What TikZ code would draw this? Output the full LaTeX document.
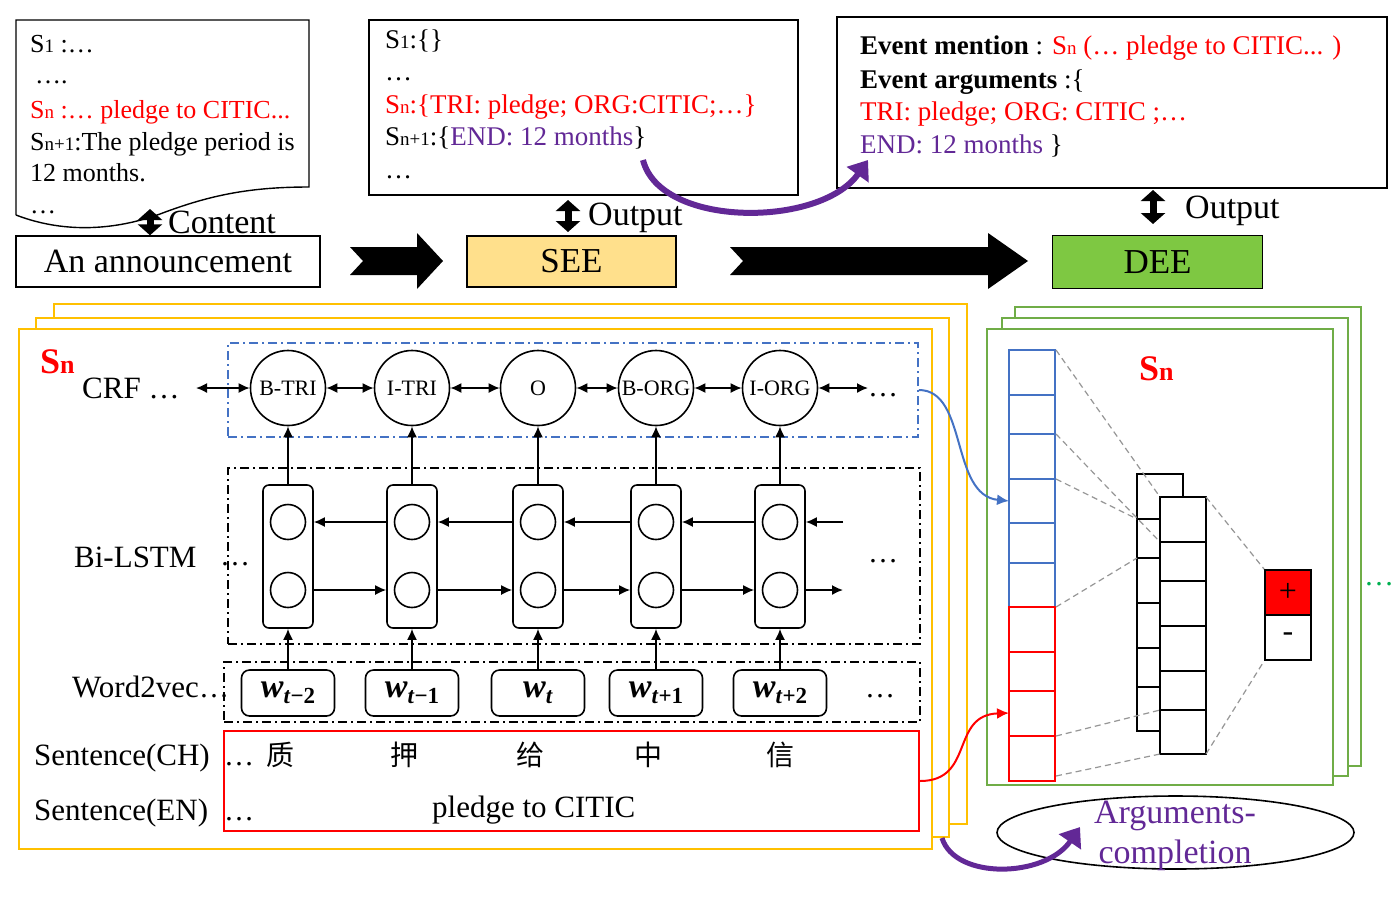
\documentclass[tikz,border=0pt]{standalone}
\usepackage{fontspec}
\setmainfont{Liberation Serif}
\newfontfamily\cjk{Noto Sans CJK SC}
\usetikzlibrary{arrows.meta,shapes.geometric,calc}
\definecolor{myred}{RGB}{255,0,0}
\definecolor{mypurple}{RGB}{98,40,150}
\definecolor{myblue}{RGB}{68,114,196}
\definecolor{myyellow}{RGB}{255,192,0}
\definecolor{mygreen}{RGB}{112,173,71}
\definecolor{seefill}{RGB}{255,224,140}
\definecolor{deefill}{RGB}{126,200,66}
\definecolor{dgray}{RGB}{150,150,150}
\definecolor{dotgreen}{RGB}{0,176,80}
\newcommand\fs[1]{\fontsize{#1}{#1}\selectfont}
\newcommand\sub[2][19]{{\fontsize{#1}{#1}\selectfont #2}}
\newcommand\wlab[1]{\textbf{\textit{w}}\raisebox{-6pt}{\fs{23}\textbf{\textit{t}}\textbf{#1}}}
\begin{document}
\begin{tikzpicture}[x=1pt,y=-1pt,
  txt/.style={inner sep=0pt, anchor=base west},
  bx/.style={draw, line width=1.4pt, inner sep=0pt},
  crfc/.style={circle, draw, line width=1.6pt, minimum size=75pt, inner sep=0pt, font=\fs{22}},
  cellbox/.style={draw, rounded corners=6pt, line width=1.6pt, minimum width=50pt, minimum height=143pt, inner sep=0pt},
  icirc/.style={circle, draw, line width=1.6pt, minimum size=35pt, inner sep=0pt},
  wbox/.style={draw, rounded corners=8pt, line width=1.6pt, minimum width=93pt, minimum height=46pt, inner sep=0pt, font=\fs{34}},
  arr/.style={-{Latex[length=11pt,width=10pt]}, line width=1.6pt},
  darr/.style={{Latex[length=11pt,width=10pt]}-{Latex[length=11pt,width=10pt]}, line width=1.6pt},
  fatarr/.style={{Triangle[length=11pt,width=24pt]}-{Triangle[length=11pt,width=24pt]}, line width=7pt},
  dashdot/.style={line width=1.6pt, dash pattern=on 9pt off 4pt on 2pt off 4pt},
  panelY/.style={draw=myyellow, fill=white, line width=2pt},
  panelG/.style={draw=mygreen, fill=white, line width=2pt},
  gdash/.style={draw=dgray, line width=1.2pt, dash pattern=on 6pt off 4pt},
  curvearr/.style={line width=6pt, draw=mypurple, -{Triangle[length=18pt,width=26pt]}},
  cellb/.style={draw=myblue, line width=1.6pt},
  cellr/.style={draw=myred, line width=1.6pt},
  cellk/.style={draw=black, fill=white, line width=1.6pt},
]
\useasboundingbox (0,0) rectangle (1396,898);

% ---------- top left document ----------
\draw[line width=1.4pt] (16,215) -- (16,20) -- (309,20) -- (309,187)
  .. controls (250,187) and (210,195) .. (160,214)
  .. controls (110,232) and (60,232) .. (16,215);
\begin{scope}[font=\fs{26}]
\node[txt] (a1) at (30,52) {S\sub{1} :…};
\node[txt] (a2) at (35,83) {….};
\node[txt, text=myred] (a3) at (30,118) {S\sub{n} :… pledge to CITIC...};
\node[txt] (a4) at (30,150) {S\sub{n+1}:The pledge period is};
\node[txt] (a5) at (30,181) {12 months.};
\node[txt] (a6) at (30,213) {…};
\end{scope}

% ---------- announcement / SEE / DEE ----------
\node[bx, minimum width=304pt, minimum height=51pt, font=\fs{34}] (ann) at (168,261.5) {An announcement};
\node[bx, fill=seefill, minimum width=209pt, minimum height=51pt, font=\fs{35}] (see) at (571.5,261.5) {SEE};
\node[bx, fill=deefill, minimum width=210pt, minimum height=53pt, font=\fs{35}] (dee) at (1157.5,262) {DEE};

\coordinate (docb) at (150,209);
\draw[fatarr] (ann.north -| docb) -- (docb);
\node[txt, font=\fs{34}] (content) at (168,233) {Content};

% ---------- middle top box ----------
\node[bx, minimum width=429pt, minimum height=175pt] (midbox) at (583.5,107.5) {};
\begin{scope}[font=\fs{27}]
\node[txt] (b1) at (385,48) {S\sub{1}:\{\}};
\node[txt] (b2) at (385,80) {…};
\node[txt, text=myred] (b3) at (385,113) {S\sub{n}:\{TRI: pledge; ORG:CITIC;…\}};
\node[txt] (b4) at (385,145) {S\sub{n+1}:\{{\color{mypurple}END: 12 months}\}};
\node[txt] (b5) at (385,178) {…};
\end{scope}
\coordinate (so1) at (568,232);
\coordinate (so2) at (568,200);
\draw[fatarr] (so1) -- (so2);
\node[txt, font=\fs{34}] (out1) at (588,225) {Output};

% ---------- right top box ----------
\node[bx, minimum width=550pt, minimum height=171pt] (rbox) at (1112,102.5) {};
\begin{scope}[font=\fs{27}]
\node[txt] (r1) at (860,54) {\textbf{Event mention} : {\color{myred}S\sub{n} (… pledge to CITIC... )}};
\node[txt] (r2) at (860,88) {\textbf{Event arguments} :\{};
\node[txt, text=myred] (r3) at (860,120) {TRI: pledge; ORG: CITIC ;…};
\node[txt] (r4) at (860,153) {{\color{mypurple}END: 12 months} \}};
\end{scope}
\coordinate (do1) at (1153,224);
\coordinate (do2) at (1153,190);
\draw[fatarr] (do1) -- (do2);
\node[txt, font=\fs{34}] (out2) at (1185,218) {Output};

% purple arrow between top boxes
\coordinate (pa1) at (643,160);
\coordinate (pa2) at (868,160);
\draw[curvearr] (pa1) .. controls (660,228) and (820,228) .. (pa2);

% big black chevron arrows
\fill (350,247) -- (417,247) -- (417,233) -- (443,261) -- (417,289) -- (417,275) -- (350,275) -- (363,261) -- cycle;
\fill (730,247) -- (988,247) -- (988,233) -- (1028,261) -- (988,289) -- (988,275) -- (730,275) -- (743,261) -- cycle;

% ---------- yellow panels ----------
\draw[panelY] (54,304) rectangle (967,824);
\draw[panelY] (36,318) rectangle (949,837);
\draw[panelY] (19,329) rectangle (932,849);

\node[txt, font=\fs{36}\bfseries, text=myred] (snl) at (40,373) {S\sub[26]{n}};
\node[txt, font=\fs{31}] (crfl) at (82,398) {CRF …};
\node[txt, font=\fs{31}] (bil) at (74,567) {Bi-LSTM};
\node[txt, font=\fs{30}] (bid) at (220,565) {…};
\node[txt, font=\fs{31}] (wvl) at (72,697) {Word2vec};
\node[txt, font=\fs{30}] (wvd) at (199,697) {…};
\node[txt, font=\fs{31}] (sch) at (34,765) {Sentence(CH)};
\node[txt, font=\fs{31}] (sen) at (34,820) {Sentence(EN)};

% dashed boxes
\node[draw=myblue, dashdot, inner sep=0pt, minimum width=690pt, minimum height=94pt] (crfbox) at (573,390) {};
\node[draw=black, dashdot, inner sep=0pt, minimum width=692pt, minimum height=176pt] (lstmbox) at (574,556) {};
\node[draw=black, dashdot, inner sep=0pt, minimum width=696pt, minimum height=60pt] (wvbox) at (572,692) {};
\node[draw=myred, line width=2pt, inner sep=0pt, minimum width=695pt, minimum height=100pt] (sentbox) at (571.5,781) {};

% columns
\foreach \x/\n/\l in {288/1/B-TRI, 412/2/I-TRI, 538/3/O, 656/4/B-ORG, 780/5/I-ORG} {
  \node[crfc] (c\n) at (\x,388) {\raisebox{-3pt}{\l}};
  \node[cellbox] (L\n) at (\x,556.5) {};
  \node[icirc] (u\n) at (\x,522) {};
  \node[icirc] (d\n) at (\x,590) {};
}
\node[wbox] (w1) at (288,693) {\wlab{−2}};
\node[wbox] (w2) at (412,693) {\wlab{−1}};
\node[wbox] (w3) at (538,693) {\wlab{}};
\node[wbox] (w4) at (656,693) {\wlab{+1}};
\node[wbox] (w5) at (780,693) {\wlab{+2}};
\foreach \n in {1,...,5} {
  \draw[arr] (w\n.north) -- (L\n.south);
  \draw[arr] (L\n.north) -- (c\n.south);
}
\foreach \i/\j in {1/2,2/3,3/4,4/5} {
  \draw[darr] (c\i) -- (c\j);
  \draw[arr] (u\j -| L\j.west) -- (u\i -| L\i.east);
  \draw[arr] (d\i -| L\i.east) -- (d\j -| L\j.west);
}
\coordinate (crfa) at (196,388);
\coordinate (crfb) at (868,388);
\draw[darr] (crfa) -- (c1);
\draw[darr] (c5) -- (crfb);
\node[txt, font=\fs{30}] (crfd) at (868,396) {…};
\coordinate (ru) at (843,522);
\coordinate (rd) at (843,590);
\draw[arr] (ru) -- (u5 -| L5.east);
\draw[arr] (d5 -| L5.east) -- (rd);
\node[txt, font=\fs{30}] (lstmd) at (868,562) {…};
\node[txt, font=\fs{30}] (wvd2) at (865,697) {…};

% sentences
\node[txt, font=\fs{30}] (chd) at (224,765) {…};
\node[txt, font=\fs{30}] (end) at (224,820) {…};
\node[font=\cjk\fs{28}, inner sep=0pt] (ch1) at (280,755) {质};
\node[font=\cjk\fs{28}, inner sep=0pt] (ch2) at (404,755) {押};
\node[font=\cjk\fs{28}, inner sep=0pt] (ch3) at (530,755) {给};
\node[font=\cjk\fs{28}, inner sep=0pt] (ch4) at (648,755) {中};
\node[font=\cjk\fs{28}, inner sep=0pt] (ch5) at (780,755) {信};
\node[txt, font=\fs{31}] (pen) at (432,817) {pledge to CITIC};

% ---------- green panels ----------
\draw[panelG] (1015,307) rectangle (1361,766);
\draw[panelG] (1002,318) rectangle (1348,776);
\draw[panelG] (987,329) rectangle (1333,785);
\node[txt, font=\fs{36}\bfseries, text=myred] (snr) at (1139,380) {S\sub[26]{n}};
\node[txt, font=\fs{30}, text=dotgreen] (gd) at (1364,585) {…};

\foreach \a/\b in {350/395,395/434,434/479,479/523,523/563,563/607}
  \draw[cellb] (1009,\a) rectangle (1055,\b);
\foreach \a/\b in {607/652,652/691,691/736,736/781}
  \draw[cellr] (1009,\a) rectangle (1055,\b);
\foreach \a/\b in {474/519,519/558,558/603,603/648,648/687,687/731}
  \draw[cellk] (1137,\a) rectangle (1183,\b);
\foreach \a/\b in {497/542,542/581,581/626,626/671,671/710,710/754}
  \draw[cellk] (1160,\a) rectangle (1206,\b);
\node[draw, fill=myred, line width=1.6pt, inner sep=0pt, minimum width=46pt, minimum height=45pt, font=\fs{32}] (plus) at (1288,592.5) {+};
\node[draw, fill=white, line width=1.6pt, inner sep=0pt, minimum width=46pt, minimum height=45pt, font=\fs{32}] (minus) at (1288,637.5) {-};

% dashed connections
\coordinate (k1) at (1056,350); \coordinate (f1) at (1160,497);
\coordinate (k2) at (1056,434); \coordinate (f2) at (1160,542);
\coordinate (k3) at (1056,479); \coordinate (g3) at (1137,519);
\coordinate (k4) at (1056,607); \coordinate (g4) at (1137,558);
\coordinate (k5) at (1056,736); \coordinate (f5) at (1160,710);
\coordinate (k6) at (1056,776); \coordinate (f6) at (1160,754);
\coordinate (f7) at (1206,497);
\coordinate (f8) at (1206,754);
\draw[gdash] (k1) -- (f1);
\draw[gdash] (k2) -- (f2);
\draw[gdash] (k3) -- (g3);
\draw[gdash] (k4) -- (g4);
\draw[gdash] (k5) -- (f5);
\draw[gdash] (k6) -- (f6);
\draw[gdash] (f7) -- (plus.north west);
\draw[gdash] (f8) -- (minus.south west);

% blue and red curves
\coordinate (colb) at (1009,501);
\coordinate (colr) at (1009,713);
\draw[myblue, line width=2pt, -{Latex[length=12pt,width=11pt]}] (crfbox.east) .. controls (968,390) and (950,495) .. (colb);
\draw[myred, line width=2pt, -{Latex[length=12pt,width=11pt]}] (sentbox.east) .. controls (975,781) and (950,715) .. (colr);

% ellipse
\node[ellipse, draw, line width=1.6pt, minimum width=357pt, minimum height=73pt, inner sep=0pt] (ell) at (1175.5,832.5) {};
\coordinate (pb1) at (942,838);
\coordinate (pb2) at (1080,827);
\draw[curvearr, line width=5pt] (pb1) .. controls (955,880) and (1045,878) .. (pb2);
\node[font=\fontsize{34}{40}\selectfont, text=mypurple, align=center, inner sep=0pt] (argt) at (1175,836) {Arguments-\\completion};
\end{tikzpicture}
\end{document}
